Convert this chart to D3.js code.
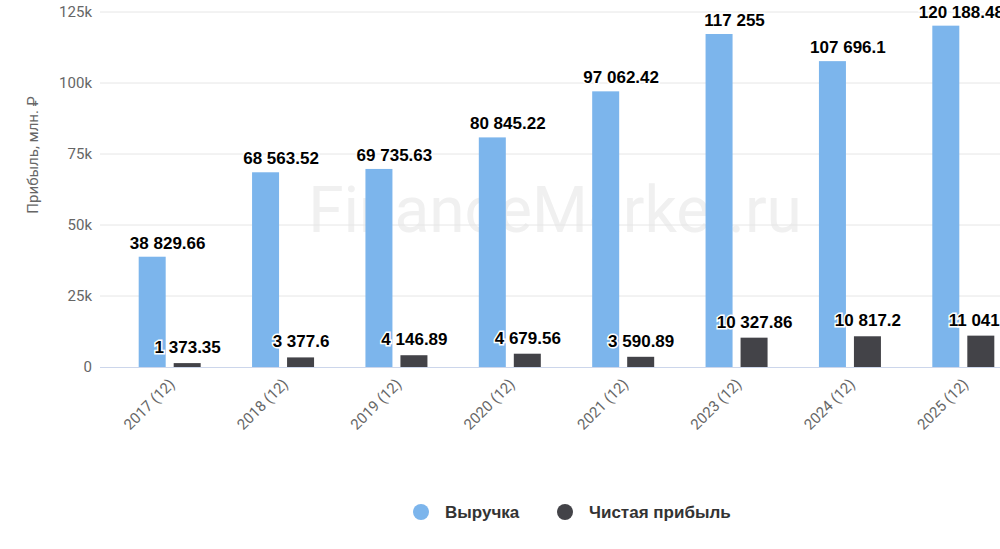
<!DOCTYPE html>
<html><head><meta charset="utf-8">
<script src="https://cdn.jsdelivr.net/npm/d3@7"></script>
<style>body{margin:0;background:#fff;overflow:hidden}</style>
</head><body><svg id="c" width="1000" height="549"></svg>
<script>
const categories=["2017 (12)","2018 (12)","2019 (12)","2020 (12)","2021 (12)","2023 (12)","2024 (12)","2025 (12)"];
const revenue=[38829.66,68563.52,69735.63,80845.22,97062.42,117255,107696.1,120188.48];
const revenueLabels=["38 829.66","68 563.52","69 735.63","80 845.22","97 062.42","117 255","107 696.1","120 188.48"];
const profit=[1373.35,3377.6,4146.89,4679.56,3590.89,10327.86,10817.2,11041.5];
const profitLabels=["1 373.35","3 377.6","4 146.89","4 679.56","3 590.89","10 327.86","10 817.2","11 041.5"];
const yTicks=[0,25000,50000,75000,100000,125000];
const tickText=["0","25k","50k","75k","100k","125k"];
const svg=d3.select("#c");
const x=d3.scaleBand().domain(categories).range([113,1020]);
const y=d3.scaleLinear().domain([0,125000]).range([367,12]);
const font="Roboto, 'Open Sans', sans-serif";
const bold="'Liberation Sans', Arial, sans-serif";
svg.append("text").attr("x",555).attr("y",232).attr("text-anchor","middle").attr("font-family",font).attr("font-size",64).attr("fill","#f0f0f0").text("FinanceMarker.ru");
yTicks.forEach((t,i)=>{
  if(i>0) svg.append("line").attr("x1",100).attr("x2",1000).attr("y1",y(t)).attr("y2",y(t)).attr("stroke","#e6e6e6");
  svg.append("text").attr("x",92).attr("y",y(t)+5).attr("text-anchor","end").attr("font-family",font).attr("font-size",15).attr("fill","#666").text(tickText[i]);
});
svg.append("line").attr("x1",100).attr("x2",1000).attr("y1",y(0)+0.5).attr("y2",y(0)+0.5).attr("stroke","#ccd6eb");
svg.append("text").attr("transform","translate(38,155) rotate(-90)").attr("text-anchor","middle").attr("font-family",font).attr("font-size",15).attr("fill","#666").text("Прибыль, млн. ₽");
const bw=27;
categories.forEach((c,i)=>{
  const cx=x(c)+x.bandwidth()/2;
  svg.append("rect").attr("x",cx-31).attr("width",bw).attr("y",y(revenue[i])).attr("height",y(0)-y(revenue[i])).attr("fill","#7cb5ec");
  svg.append("rect").attr("x",cx+4).attr("width",bw).attr("y",y(profit[i])).attr("height",y(0)-y(profit[i])).attr("fill","#434348");
  svg.append("text").attr("x",cx-2).attr("y",y(revenue[i])-8).attr("text-anchor","middle").attr("font-family",bold).attr("font-weight","bold").attr("font-size",17).attr("fill","#000").attr("stroke","#fff").attr("stroke-width",3).attr("paint-order","stroke").text(revenueLabels[i]);
  svg.append("text").attr("x",cx+18).attr("y",y(profit[i])-10).attr("text-anchor","middle").attr("font-family",bold).attr("font-weight","bold").attr("font-size",17).attr("fill","#000").attr("stroke","#fff").attr("stroke-width",3).attr("paint-order","stroke").text(profitLabels[i]);
  svg.append("text").attr("transform",`translate(${cx+6},${385}) rotate(-45)`).attr("text-anchor","end").attr("font-family",font).attr("font-size",15).attr("fill","#666").text(c);
});
const lg=[["Выручка","#7cb5ec",421],["Чистая прибыль","#434348",565]];
lg.forEach(([t,col,lx])=>{
  svg.append("circle").attr("cx",lx).attr("cy",512).attr("r",8).attr("fill",col);
  svg.append("text").attr("x",lx+24).attr("y",518).attr("font-family",bold).attr("font-weight","bold").attr("font-size",17).attr("fill","#333").text(t);
});
</script></body></html>
